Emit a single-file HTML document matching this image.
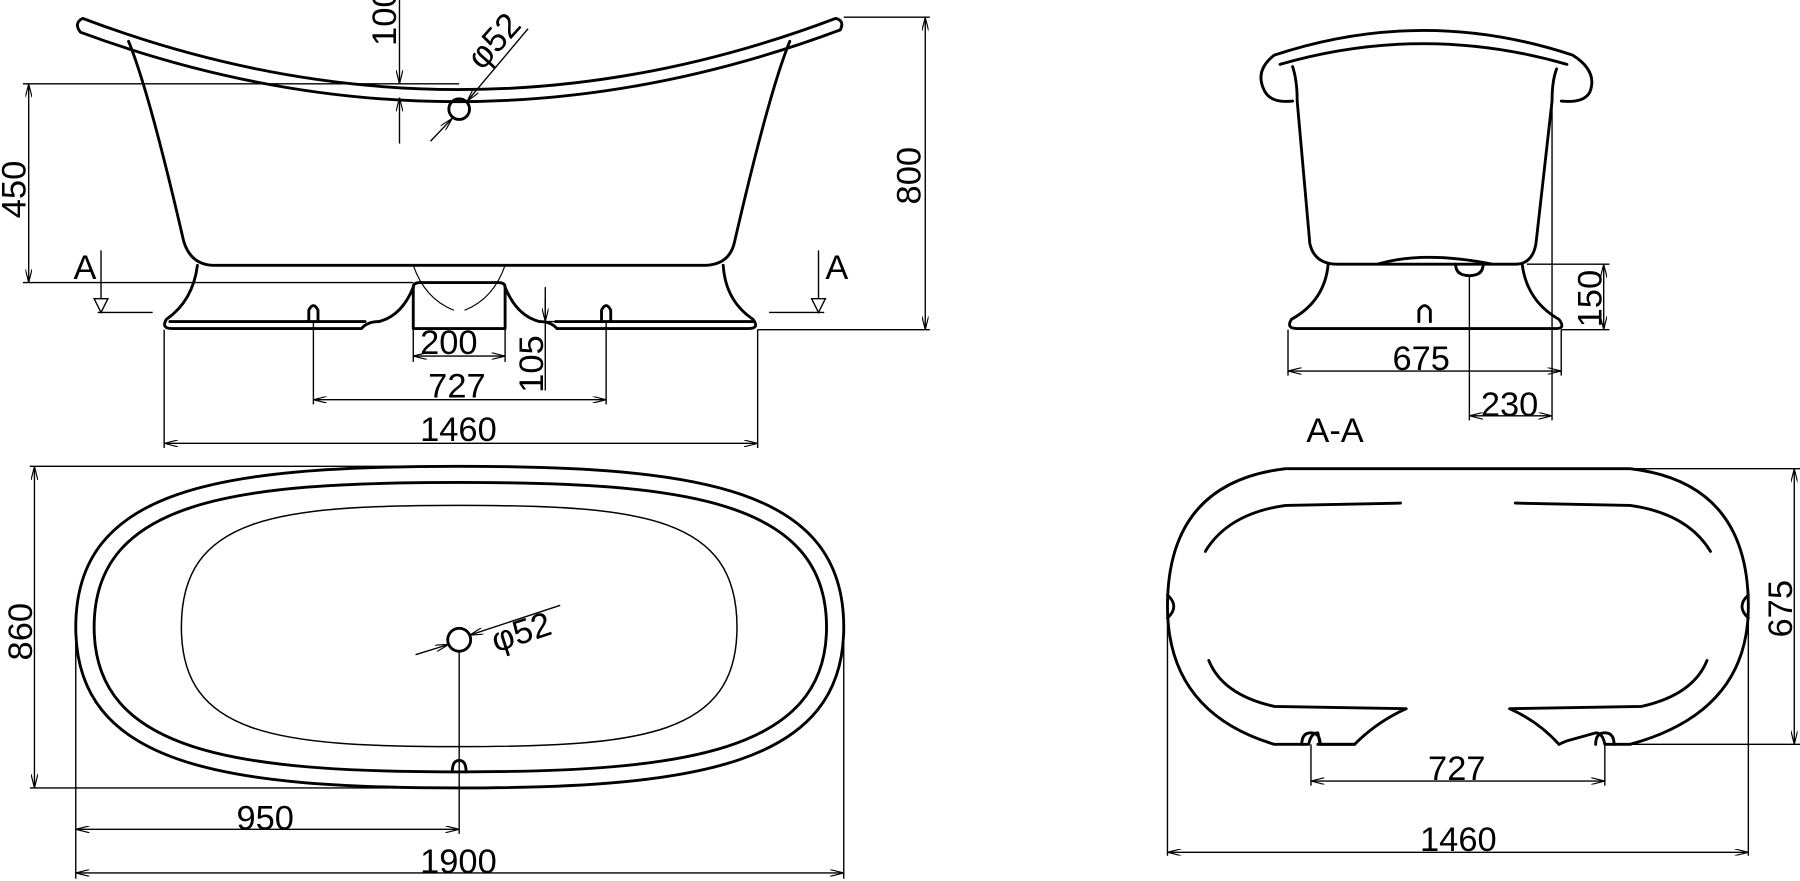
<!DOCTYPE html>
<html><head><meta charset="utf-8"><style>
html,body{margin:0;padding:0;background:#fff;}
svg{display:block;}
text{font-family:"Liberation Sans","DejaVu Sans",sans-serif;font-size:30px;fill:#000;}
</style></head><body>
<svg width="1800" height="881" viewBox="0 0 1568 767" preserveAspectRatio="none" xmlns="http://www.w3.org/2000/svg">
<defs>
<marker id="ar" viewBox="0 0 12 6" refX="12" refY="3" markerWidth="12" markerHeight="6" orient="auto-start-reverse" markerUnits="userSpaceOnUse"><path d="M0,0 L12,3 L0,6" fill="none" stroke="#000" stroke-width="1"/></marker>
</defs>
<g fill="none" stroke="#000" stroke-width="2.5" stroke-linejoin="round" stroke-linecap="round">
<!-- SIDE VIEW -->
<path d="M72,16 Q400,140 728,16 Q736,18 732,26 Q400,150 70,28 Q64,20 72,16 Z"/>
<path d="M112,36 Q130,80 160,210 Q166,230 185,231 L615,231 Q636,230 640,210 Q670,80 688,36"/>
<path d="M172,231 Q168,262 145,278 Q140,286 150,286 L315,286 Q320,280 330,280 Q350,275 360,250 L360,286 L440,286 L440,250 Q450,275 470,280 Q480,280 485,286 L652,286 Q662,286 656,278 Q632,262 630,231"/>
<path d="M148,280 L318,280 M484,280 L656,280"/>
<path d="M360,250 Q360,246 366,246 L434,246 Q440,246 440,250"/>
<path d="M269,280 L269,270 Q273,262 277,270 L277,280 M524,280 L524,270 Q528,262 532,270 L532,280"/>
<circle cx="400" cy="95" r="9"/>
<path d="M360,231 Q370,260 395,270 M440,231 Q430,260 405,270" stroke-width="1"/>
<!-- END VIEW -->
<path d="M1110,48 Q1240,5 1370,48 Q1392,62 1385,80 Q1380,90 1360,88 M1110,48 Q1092,62 1102,80 Q1108,90 1126,88"/>
<path d="M1115,56 Q1240,20 1365,56"/>
<path d="M1126,58 Q1130,70 1130,88 L1141,212 Q1145,230 1165,230 L1320,230 Q1335,230 1338,212 L1352,88 Q1352,70 1356,60"/>
<path d="M1200,230 Q1240,218 1300,230"/>
<path d="M1268,230 Q1268,240 1280,240 Q1292,240 1292,230"/>
<path d="M1157,230 Q1154,262 1125,278 Q1120,286 1130,286 L1356,286 Q1364,286 1358,278 Q1330,262 1326,230"/>
<path d="M1236,280 L1236,270 Q1241,262 1246,270 L1246,280"/>
<!-- TOP VIEW -->
<path d="M400,406 C610,406 735,425 735,546 C735,665 610,686 400,686 C190,686 66,665 66,546 C66,425 190,406 400,406 Z"/>
<path d="M400,420 C595,420 720,435 720,546 C720,655 595,672 400,672 C205,672 82,655 82,546 C82,435 205,420 400,420 Z"/>
<path d="M400,440 C560,440 642,450 642,546 C642,640 560,650 400,650 C240,650 158,640 158,546 C158,450 240,440 400,440 Z" stroke-width="1.3"/>
<circle cx="400" cy="557" r="10"/>
<path d="M394,672 Q394,662 400,662 Q406,662 406,672"/>
<!-- SECTION A-A -->
<path d="M1120,408 L1420,408 Q1523,420 1523,528 Q1523,620 1420,648 L1398,648 Q1396,638 1390,638 L1365,645 L1358,648 M1120,408 Q1017,420 1017,528 Q1017,620 1110,648 L1140,648 Q1142,638 1148,638 L1150,648 L1180,648"/>
<path d="M1148,648 L1180,648 Q1200,628 1225,617 L1110,615 Q1065,605 1053,575"/>
<path d="M1358,648 Q1340,628 1315,617 L1430,615 Q1475,605 1487,575"/>
<path d="M1220,438 L1120,440 Q1070,447 1050,480"/>
<path d="M1320,438 L1420,440 Q1470,447 1490,480"/>
<path d="M1017,518 Q1028,528 1017,538 M1523,518 Q1512,528 1523,538"/>
<path d="M1134,648 Q1134,638 1142,638 Q1150,638 1150,648 M1390,648 Q1390,638 1398,638 Q1406,638 1406,648"/>
</g>
<!-- DIMENSIONS -->
<g fill="none" stroke="#000" stroke-width="1.2">
<path d="M735,15 L810,15 M660,287 L810,287"/>
<line x1="806" y1="15" x2="806" y2="287" marker-start="url(#ar)" marker-end="url(#ar)"/>
<path d="M20,73 L400,73 M20,246 L360,246"/>
<line x1="25" y1="73" x2="25" y2="246" marker-start="url(#ar)" marker-end="url(#ar)"/>
<line x1="348" y1="0" x2="348" y2="73" marker-end="url(#ar)"/>
<line x1="348" y1="125" x2="348" y2="85" marker-end="url(#ar)"/>
<line x1="375" y1="123" x2="394" y2="103" marker-end="url(#ar)"/>
<line x1="460" y1="25" x2="407" y2="88" marker-end="url(#ar)"/>
<path d="M360,287 L360,315 M440,287 L440,315"/>
<line x1="360" y1="310" x2="440" y2="310" marker-start="url(#ar)" marker-end="url(#ar)"/>
<path d="M273,280 L273,352 M528,280 L528,352"/>
<line x1="273" y1="348" x2="528" y2="348" marker-start="url(#ar)" marker-end="url(#ar)"/>
<path d="M143,287 L143,390 M660,287 L660,390"/>
<line x1="143" y1="386" x2="660" y2="386" marker-start="url(#ar)" marker-end="url(#ar)"/>
<path d="M475,250 L475,340 M470,280 L495,280"/>
<line x1="475" y1="260" x2="475" y2="280" marker-end="url(#ar)"/>
<path d="M85,272 L133,272 M88,218 L88,260 M670,272 L718,272 M713,218 L713,260"/>
<path d="M82,260 L88,272 L94,260 Z M707,260 L713,272 L719,260 Z"/>
<!-- end view dims -->
<path d="M1122,287 L1122,327 M1360,287 L1360,327 M1352,85 L1352,366 M1280,240 L1280,366 M1330,230 L1402,230 M1360,287 L1402,287"/>
<line x1="1122" y1="323" x2="1360" y2="323" marker-start="url(#ar)" marker-end="url(#ar)"/>
<line x1="1280" y1="362" x2="1352" y2="362" marker-start="url(#ar)" marker-end="url(#ar)"/>
<line x1="1397" y1="230" x2="1397" y2="287" marker-start="url(#ar)" marker-end="url(#ar)"/>
<!-- top view dims -->
<path d="M26,406 L400,406 M26,686 L400,686 M66,546 L66,765 M735,546 L735,765 M400,567 L400,726"/>
<line x1="30" y1="406" x2="30" y2="686" marker-start="url(#ar)" marker-end="url(#ar)"/>
<line x1="66" y1="722" x2="400" y2="722" marker-start="url(#ar)" marker-end="url(#ar)"/>
<line x1="66" y1="760" x2="735" y2="760" marker-start="url(#ar)" marker-end="url(#ar)"/>
<line x1="362" y1="570" x2="391" y2="561" marker-end="url(#ar)"/>
<line x1="488" y1="527" x2="409" y2="553" marker-end="url(#ar)"/>
<!-- A-A dims -->
<path d="M1420,408 L1568,408 M1400,648 L1568,648 M1017,540 L1017,745 M1523,540 L1523,745 M1142,648 L1142,684 M1398,648 L1398,684"/>
<line x1="1563" y1="408" x2="1563" y2="648" marker-start="url(#ar)" marker-end="url(#ar)"/>
<line x1="1142" y1="680" x2="1398" y2="680" marker-start="url(#ar)" marker-end="url(#ar)"/>
<line x1="1017" y1="742" x2="1523" y2="742" marker-start="url(#ar)" marker-end="url(#ar)"/>
</g>
<!-- TEXT -->
<text x="0" y="0" transform="translate(802,178) rotate(-90)">800</text>
<text x="0" y="0" transform="translate(22,190) rotate(-90)">450</text>
<text x="0" y="0" transform="translate(345,40) rotate(-90)">100</text>
<text x="0" y="0" transform="translate(420,62) rotate(-48)">φ52</text>
<text x="64" y="243">A</text>
<text x="719" y="243">A</text>
<text x="366" y="308">200</text>
<text x="373" y="346">727</text>
<text x="0" y="0" transform="translate(473,342) rotate(-90)">105</text>
<text x="366" y="384">1460</text>
<text x="1213" y="322">675</text>
<text x="1290" y="362">230</text>
<text x="0" y="0" transform="translate(1395,285) rotate(-90)">150</text>
<text x="1138" y="385">A-A</text>
<text x="0" y="0" transform="translate(28,575) rotate(-90)">860</text>
<text x="206" y="722">950</text>
<text x="366" y="760">1900</text>
<text x="0" y="0" transform="translate(432,568) rotate(-18)">φ52</text>
<text x="0" y="0" transform="translate(1561,555) rotate(-90)">675</text>
<text x="1244" y="679">727</text>
<text x="1237" y="741">1460</text>
</svg>
</body></html>
